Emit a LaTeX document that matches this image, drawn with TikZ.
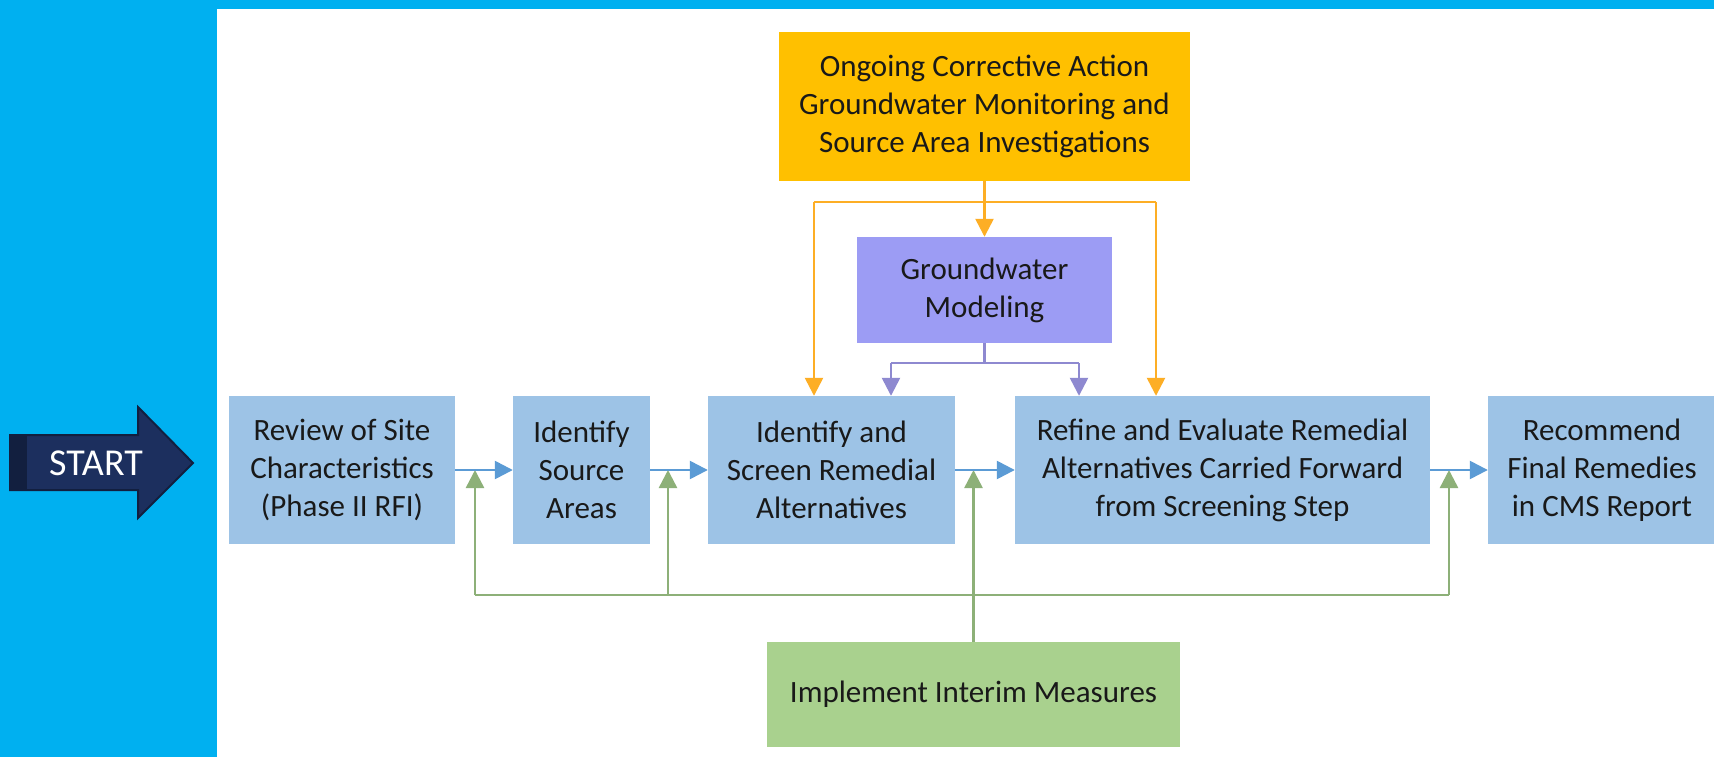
\documentclass[tikz,border=0pt]{standalone}
\usepackage{fontspec}
\setmainfont{Carlito}
\usepackage{tikz}
\usetikzlibrary{arrows.meta}

\definecolor{bgblue}{HTML}{00B0F0}
\definecolor{navy}{HTML}{1C2F5E}
\definecolor{navydark}{HTML}{121F3F}
\definecolor{stepblue}{HTML}{9DC3E6}
\definecolor{gold}{HTML}{FFC000}
\definecolor{lilac}{HTML}{9C9CF4}
\definecolor{leaf}{HTML}{A9D18E}
\definecolor{flowblue}{HTML}{5B9BD5}
\definecolor{floworange}{HTML}{FDAE25}
\definecolor{flowlilac}{HTML}{8E89D0}
\definecolor{flowgreen}{HTML}{8DB078}

\tikzstyle{block} = [rectangle, fill=stepblue, align=center, inner sep=0pt,
    text=black!90, font=\fontsize{31}{38}\selectfont, minimum height=148pt]
\tikzstyle{flow} = [-{Triangle[length=18pt,width=18pt]}, line width=2.5pt]

\begin{document}
\begin{tikzpicture}[x=1pt, y=-1pt]
	\useasboundingbox (0,0) rectangle (1714,757);
	% Page background
	\fill[bgblue] (0,0) rectangle (1714,757);
	\fill[white] (217,9) rectangle (1714,757);

	% Start arrow
	\fill[navy, draw=navydark, line width=2pt] (10,435) -- (138,435) -- (138,407) -- (193,463)
		-- (138,518) -- (138,490) -- (10,490) -- cycle;
	\fill[navydark] (10,435) rectangle (27,490);
	\node [text=white, font=\fontsize{38}{40}\selectfont] at (96,463) (start) {START};

	% Place nodes
	\node [block, minimum width=226pt] at (342,470) (review) {Review of Site\\Characteristics\\(Phase II RFI)};
	\node [block, minimum width=137pt] at (581.5,470) (source) {Identify\\Source\\Areas};
	\node [block, minimum width=247pt] at (831.5,470) (screen) {Identify and\\Screen Remedial\\Alternatives};
	\node [block, minimum width=415pt] at (1222.5,470) (refine) {Refine and Evaluate Remedial\\Alternatives Carried Forward\\from Screening Step};
	\node [block, minimum width=228pt] at (1602,470) (recommend) {Recommend\\Final Remedies\\in CMS Report};

	\node [block, fill=gold, minimum width=411pt, minimum height=149pt] at (984.5,106.5) (ongoing)
		{Ongoing Corrective Action\\Groundwater Monitoring and\\Source Area Investigations};
	\node [block, fill=lilac, minimum width=255pt, minimum height=106pt] at (984.5,290) (gwm) {Groundwater\\Modeling};
	\node [block, fill=leaf, minimum width=413pt, minimum height=105pt] at (973.5,694.5) (interim) {Implement Interim Measures};

	% Split points
	\coordinate (oL) at (814,202);
	\coordinate (oR) at (1156,202);
	\coordinate (pL) at (891,363);
	\coordinate (pR) at (1079,363);
	\coordinate (gA) at (475,595);
	\coordinate (gB) at (668,595);
	\coordinate (gC) at (1449,595);

	% Monitoring feeds
	\draw[floworange, line width=2.5pt](oL)--(oR);
	\draw[flow, floworange](ongoing)--(gwm);
	\draw[flow, floworange](oL)--(oL |- screen.north);
	\draw[flow, floworange](oR)--(oR |- refine.north);

	% Modeling feeds
	\draw[flowlilac, line width=2.5pt](gwm.south)--(gwm.south |- pL);
	\draw[flowlilac, line width=2.5pt](pL)--(pR);
	\draw[flow, flowlilac](pL)--(pL |- screen.north);
	\draw[flow, flowlilac](pR)--(pR |- refine.north);

	% Interim measures
	\draw[flowgreen, line width=2.5pt](gA)--(gC);
	\draw[flow, flowgreen](interim)--(interim.north |- review.east);
	\draw[flow, flowgreen](gA)--(gA |- review.east);
	\draw[flow, flowgreen](gB)--(gB |- review.east);
	\draw[flow, flowgreen](gC)--(gC |- review.east);

	% Main steps
	\draw[flow, flowblue](review)--(source);
	\draw[flow, flowblue](source)--(screen);
	\draw[flow, flowblue](screen)--(refine);
	\draw[flow, flowblue](refine)--(recommend);
\end{tikzpicture}
\end{document}
